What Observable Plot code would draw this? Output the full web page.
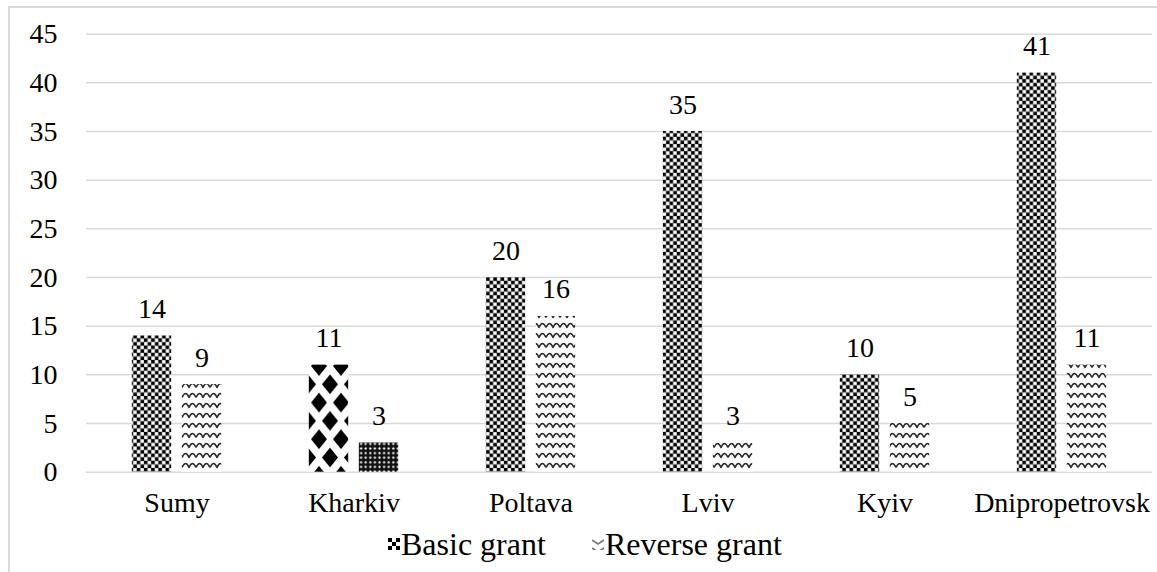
<!DOCTYPE html>
<html>
<head>
<meta charset="utf-8">
<script src="https://cdn.jsdelivr.net/npm/d3@7"></script>
<script src="https://cdn.jsdelivr.net/npm/@observablehq/plot@0.6"></script>
<style>
  html, body { margin: 0; padding: 0; background: #fff; }
  body { width: 1157px; height: 572px; overflow: hidden; position: relative; font-family: "Liberation Serif", Tinos, "Times New Roman", Times, serif; }
  #frame { position: absolute; left: 8px; top: 6px; width: 1200px; height: 600px; border-left: 2px solid #d9d9d9; border-top: 2px solid #d9d9d9; box-sizing: border-box; }
  #chart { position: absolute; left: 0; top: 0; }
  #legend { position: absolute; left: 0; top: 524px; width: 1157px; height: 40px; font-size: 32px; color: #000; line-height: 40px; }
  #legend .item { position: absolute; top: 0; display: flex; align-items: center; white-space: nowrap; }
  #legend svg { margin-right: 1px; }
  #chart svg text { font-family: inherit; }
</style>
</head>
<body>
<svg width="0" height="0" style="position:absolute">
  <defs>
    <pattern id="checker" width="7.2" height="7.2" patternUnits="userSpaceOnUse">
      <rect width="7.2" height="7.2" fill="#fff"/>
      <rect width="3.6" height="3.6" fill="#000"/>
      <rect x="3.6" y="3.6" width="3.6" height="3.6" fill="#000"/>
      <rect x="3.6" y="0" width="3.6" height="3.6" fill="none" stroke="#999" stroke-width="0.6"/>
      <rect x="0" y="3.6" width="3.6" height="3.6" fill="none" stroke="#999" stroke-width="0.6"/>
    </pattern>
    <pattern id="checkerBig" width="8" height="8" patternUnits="userSpaceOnUse">
      <rect width="8" height="8" fill="#fff"/>
      <rect width="4" height="4" fill="#000"/>
      <rect x="4" y="4" width="4" height="4" fill="#000"/>
    </pattern>
    <pattern id="wave" width="14" height="10" patternUnits="userSpaceOnUse">
      <rect width="14" height="10" fill="#fff"/>
      <path d="M0,8 Q3.5,0.5 7,4 Q10.5,7.5 14,8" fill="none" stroke="#fff" stroke-width="0"/>
      <path d="M0,7.5 C2,2 5,2 7,5 C9,8 12,8 14,7.5" fill="none" stroke="none"/>
      <path d="M0,7.5 Q3.5,-0.5 7,7.5 Q10.5,-0.5 14,7.5" fill="none" stroke="#2a2a2a" stroke-width="1.6" stroke-linejoin="round"/>
    </pattern>
    <pattern id="waveBig" width="12" height="8" patternUnits="userSpaceOnUse">
      <rect width="12" height="8" fill="#fff"/>
      <path d="M0,2 L6,6 L12,2" fill="none" stroke="#777" stroke-width="1.6"/>
    </pattern>
    <pattern id="diamond" width="22" height="36.6" patternUnits="userSpaceOnUse">
      <rect width="22" height="36.6" fill="#fff"/>
      <polygon points="11,-10 19,0 11,10 3,0" fill="#000"/>
      <polygon points="11,26.6 19,36.6 11,46.6 3,36.6" fill="#000"/>
      <polygon points="0,8.3 8,18.3 0,28.3 -8,18.3" fill="#000"/>
      <polygon points="22,8.3 30,18.3 22,28.3 14,18.3" fill="#000"/>
    </pattern>
    <pattern id="dots" width="4.6" height="4.6" patternUnits="userSpaceOnUse">
      <rect width="4.6" height="4.6" fill="#111"/>
      <circle cx="2.3" cy="2.3" r="1.1" fill="#fff"/>
    </pattern>
  </defs>
</svg>
<div id="frame"></div>
<div id="chart"></div>
<div id="legend">
  <div class="item" style="left:388px"><svg width="12" height="12"><rect width="12" height="12" fill="url(#checkerBig)"/></svg><span>Basic grant</span></div>
  <div class="item" style="left:592px"><svg width="12" height="12"><rect width="12" height="12" fill="url(#waveBig)"/></svg><span>Reverse grant</span></div>
</div>
<script>
const categories = ["Sumy", "Kharkiv", "Poltava", "Lviv", "Kyiv", "Dnipropetrovsk"];
const basicGrant = [14, 11, 20, 35, 10, 41];
const reverseGrant = [9, 3, 16, 3, 5, 11];
const yTicks = [0, 5, 10, 15, 20, 25, 30, 35, 40, 45];

const basicRows = categories.map((c, i) => ({category: c, value: basicGrant[i]}));
const reverseRows = categories.map((c, i) => ({category: c, value: reverseGrant[i]}));

const width = 1157, height = 522;
const marginLeft = 86, marginRight = 5, marginTop = 33.7, marginBottom = 50.3;
const band = (width - marginLeft - marginRight) / categories.length;
const half = band / 2;
const barW = 40, gap = 10;
const innerInset = half - gap / 2;
const outerInset = half - gap / 2 - barW;
const off = (barW + gap) / 2;

const chart = Plot.plot({
  width, height, marginLeft, marginRight, marginTop, marginBottom,
  style: {color: "#000", background: "transparent", overflow: "visible", fontFamily: "inherit"},
  x: {domain: categories, padding: 0, label: null},
  y: {domain: [0, 45], label: null},
  marks: [
    Plot.ruleY(yTicks, {stroke: "#d9d9d9", strokeWidth: 1.5}),
    Plot.barY(basicRows.filter(d => d.category !== "Kharkiv"), {x: "category", y: "value", fill: "url(#checker)", insetLeft: outerInset, insetRight: innerInset + gap}),
    Plot.barY(basicRows.filter(d => d.category === "Kharkiv"), {x: "category", y: "value", fill: "url(#diamond)", insetLeft: outerInset, insetRight: innerInset + gap}),
    Plot.barY(reverseRows.filter(d => d.category !== "Kharkiv"), {x: "category", y: "value", fill: "url(#wave)", insetLeft: innerInset + gap, insetRight: outerInset}),
    Plot.barY(reverseRows.filter(d => d.category === "Kharkiv"), {x: "category", y: "value", fill: "url(#dots)", insetLeft: innerInset + gap, insetRight: outerInset}),
    Plot.text(basicRows, {x: "category", y: "value", text: d => String(d.value), dx: -off, dy: -27, fontSize: 28, fill: "#000"}),
    Plot.text(reverseRows, {x: "category", y: "value", text: d => String(d.value), dx: off, dy: -27, fontSize: 28, fill: "#000"}),
    Plot.axisY(yTicks, {tickSize: 0, tickPadding: 29, fontSize: 28, label: null, tickFormat: d => String(d)}),
    Plot.axisX({tickSize: 0, tickPadding: 20, fontSize: 28, label: null})
  ]
});
document.getElementById("chart").appendChild(chart);
</script>
</body>
</html>
